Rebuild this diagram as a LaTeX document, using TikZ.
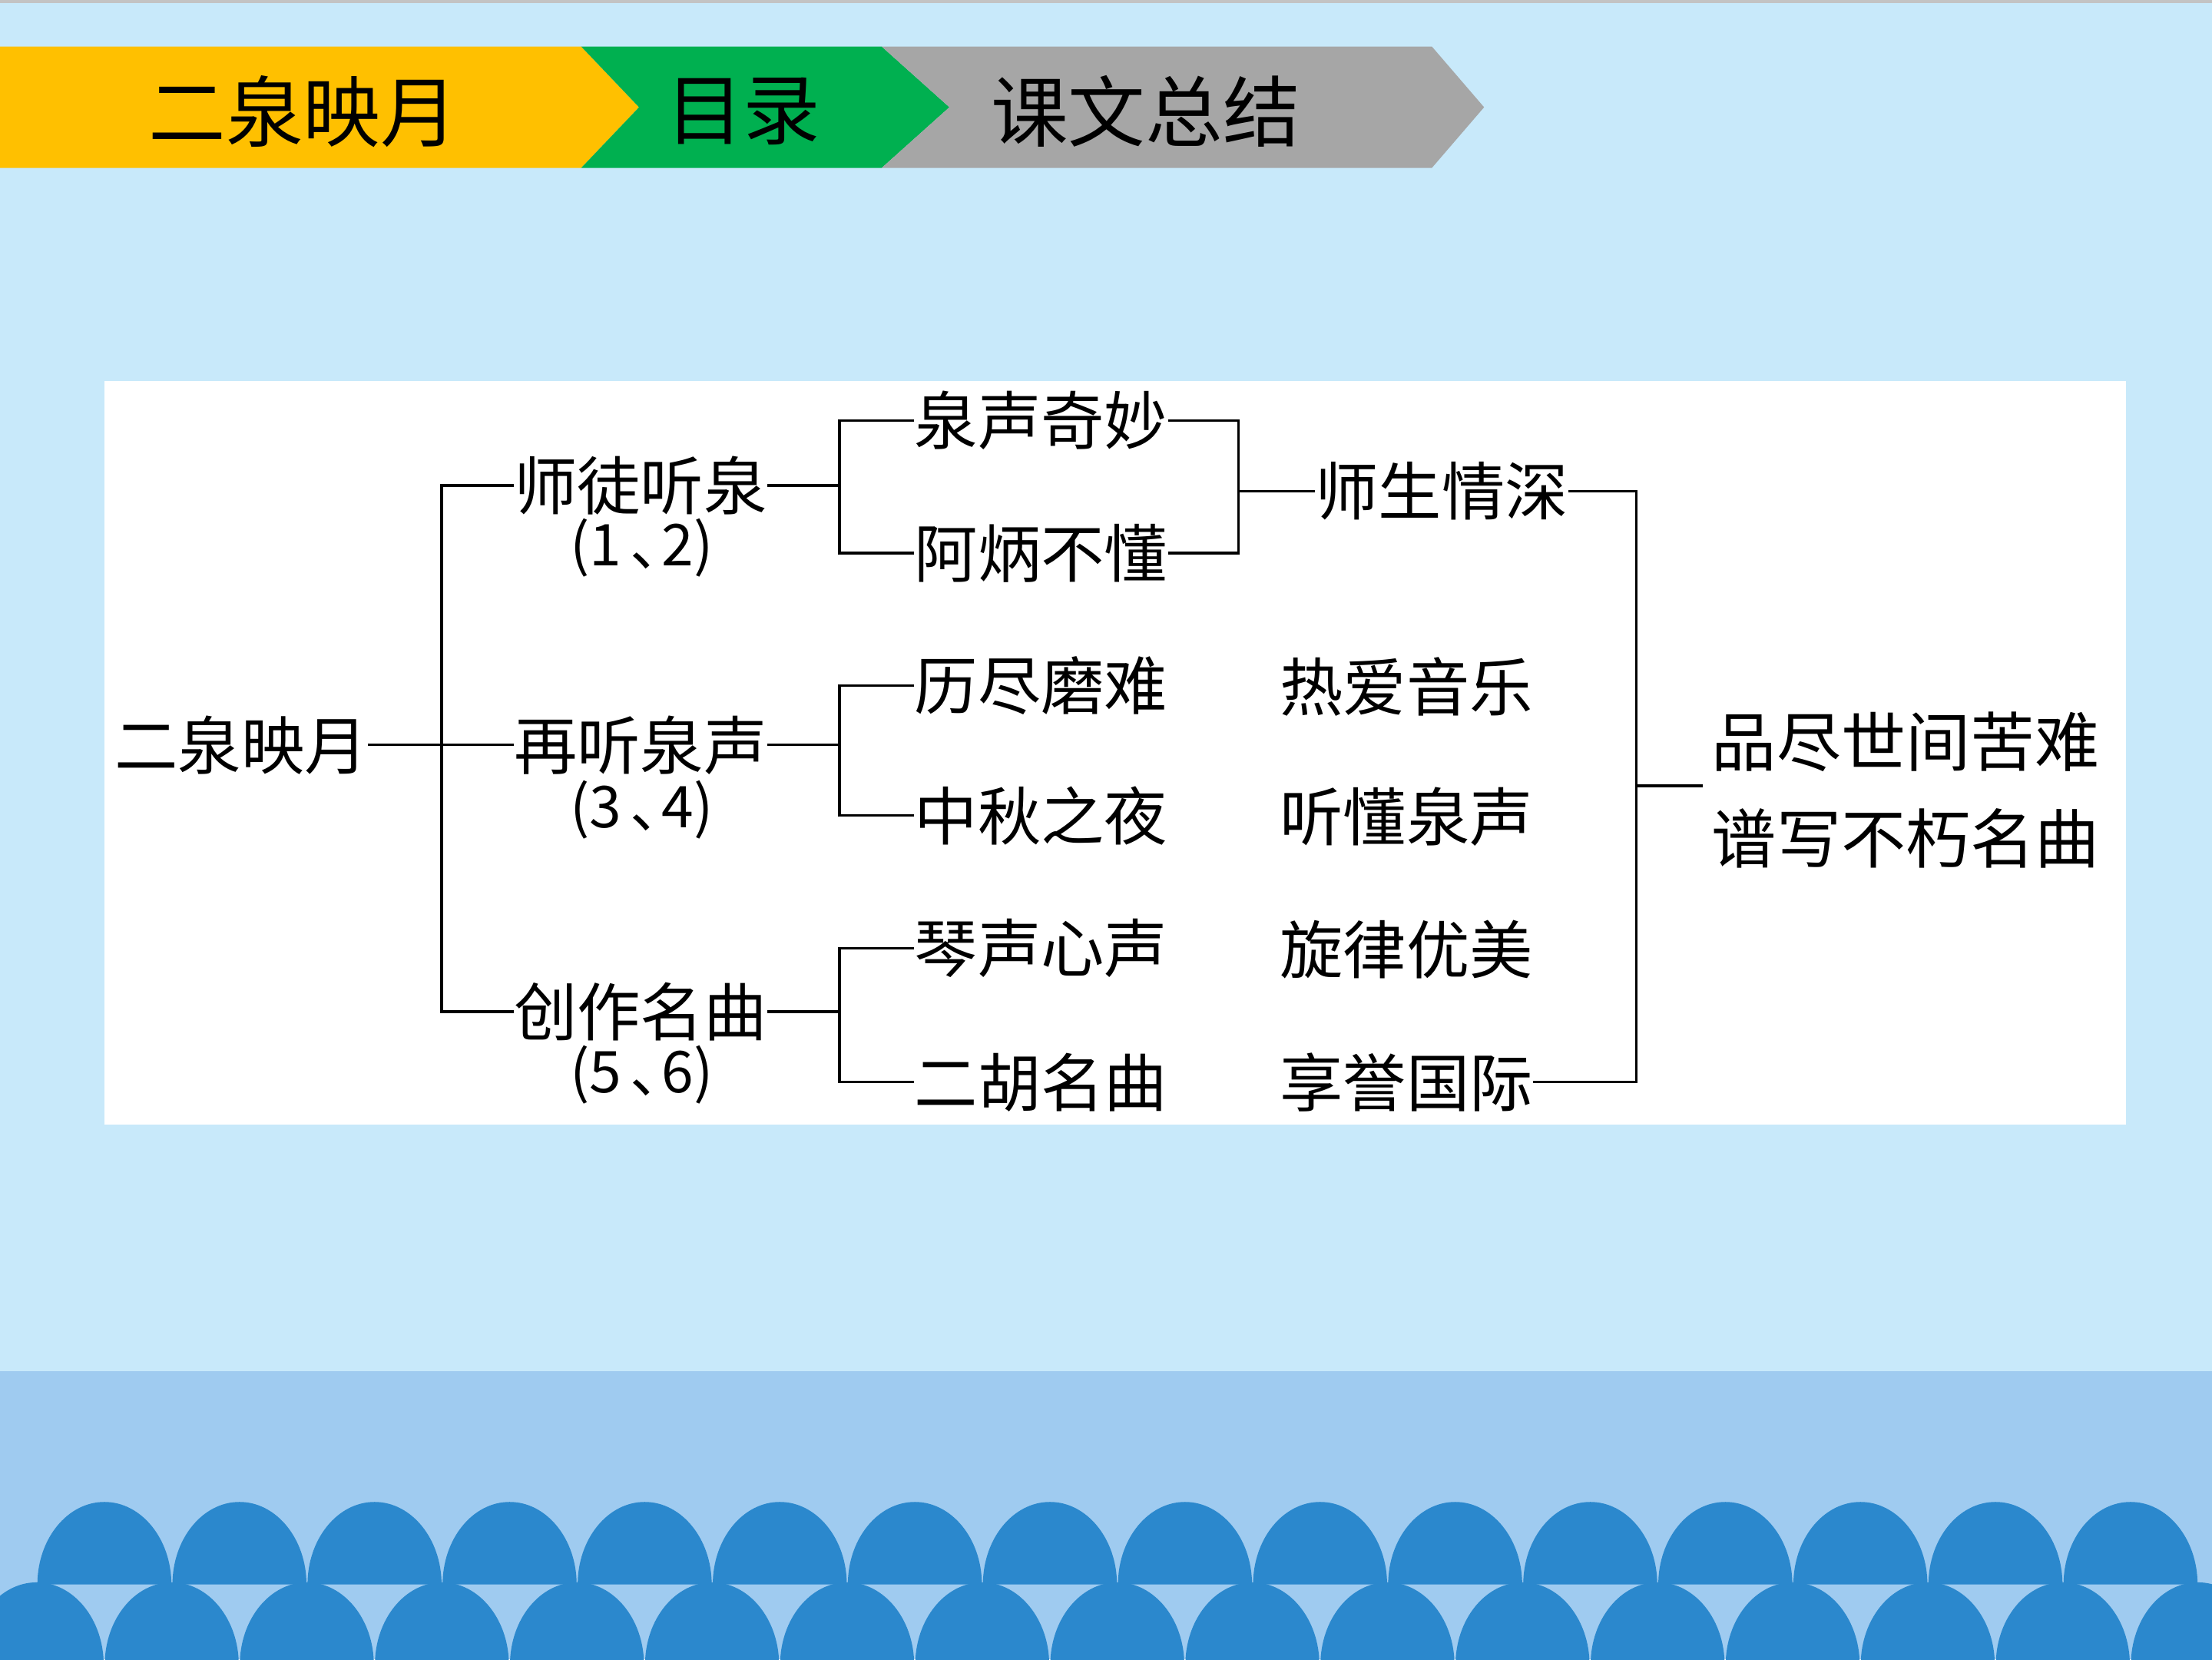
\documentclass[tikz,border=0pt]{standalone}
\usepackage{fontspec}
\newfontfamily\cjk{Noto Sans CJK SC}
\definecolor{bgblue}{HTML}{C8E9FA}
\definecolor{bandblue}{HTML}{9FCBF0}
\definecolor{wave}{HTML}{2B88CD}
\definecolor{hyellow}{HTML}{FFC000}
\definecolor{hgreen}{HTML}{00B050}
\definecolor{hgray}{HTML}{A6A6A6}
\definecolor{topgray}{HTML}{C3C3C3}
\begin{document}
\begin{tikzpicture}[x=1bp,y=-1bp,
  lbl/.style={inner sep=0pt, font=\cjk\fontsize{45}{50}\selectfont},
  num/.style={inner sep=0pt, font=\cjk\fontsize{41}{46}\selectfont},
  hdr/.style={inner sep=0pt, font=\cjk\fontsize{55}{60}\selectfont},
  conn/.style={draw=black, line width=1.8bp}]
\useasboundingbox (0,0) rectangle (1568,1176);
% background
\fill[bgblue] (0,0) rectangle (1568,1176);
\fill[topgray] (0,0) rectangle (1568,2);
\fill[bandblue] (0,972) rectangle (1568,1176);
% waves
\begin{scope}
\clip (0,0) rectangle (1568,1176);
\foreach \k in {0,...,15}{
  \pgfmathsetmacro{\cx}{74+95.75*\k}
  \fill[wave] (\cx-47.5,1123) .. controls (\cx-47.5,1090.7) and (\cx-26.2,1064.5) .. (\cx,1064.5)
     .. controls (\cx+26.2,1064.5) and (\cx+47.5,1090.7) .. (\cx+47.5,1123) -- cycle;
}
\foreach \k in {0,...,16}{
  \pgfmathsetmacro{\cx}{26+95.75*\k}
  \fill[wave] (\cx-47.5,1180) .. controls (\cx-47.5,1147.7) and (\cx-26.2,1121.5) .. (\cx,1121.5)
     .. controls (\cx+26.2,1121.5) and (\cx+47.5,1147.7) .. (\cx+47.5,1180) -- cycle;
}
\end{scope}
% header chevrons
\fill[hyellow] (0,33) -- (412,33) -- (453,76) -- (412,119) -- (0,119) -- cycle;
\fill[hgreen] (412,33) -- (625,33) -- (673,76) -- (625,119) -- (412,119) -- (453,76) -- cycle;
\fill[hgray] (625,33) -- (1015,33) -- (1052,76) -- (1015,119) -- (625,119) -- (673,76) -- cycle;
\node[hdr] (h1) at (215,79) {二泉映月};
\node[hdr] (h2) at (527,79) {目录};
\node[hdr] (h3) at (812,79) {课文总结};
% white panel
\fill[white] (74,270) rectangle (1507,797);
% labels
\node[lbl] (root) at (171,528) {二泉映月};
\node[lbl] (A) at (454,344) {师徒听泉};
\node[num] (An) at (455,388) {(1\kern0.15em、\kern-0.45em2)};
\node[lbl] (B) at (454,528) {再听泉声};
\node[num] (Bn) at (455,574) {(3\kern0.15em、\kern-0.45em4)};
\node[lbl] (C) at (454,717) {创作名曲};
\node[num] (Cn) at (455,762) {(5\kern0.15em、\kern-0.45em6)};
\node[lbl] (A1) at (738,298) {泉声奇妙};
\node[lbl] (A2) at (738,392) {阿炳不懂};
\node[lbl] (B1) at (738,486) {历尽磨难};
\node[lbl] (B2) at (738,578) {中秋之夜};
\node[lbl] (C1) at (738,672) {琴声心声};
\node[lbl] (C2) at (738,767) {二胡名曲};
\node[lbl] (S) at (1022,348) {师生情深};
\node[lbl] (R1) at (997,487) {热爱音乐};
\node[lbl] (R2) at (997,579) {听懂泉声};
\node[lbl] (R3) at (997,673) {旋律优美};
\node[lbl] (R4) at (997,767) {享誉国际};
\node[lbl, font=\cjk\fontsize{46}{69}\selectfont, align=left] (F) at (1351,560) {品尽世间苦难\\谱写不朽名曲};
% junctions
\coordinate (j1) at (313,528);
\coordinate (j2) at (595,344);
\coordinate (j3) at (878,348);
\coordinate (j4) at (1160,557);
\coordinate (j5) at (595,528);
\coordinate (j6) at (595,717);
\coordinate (fend) at (1207,557);
% connectors
\draw[conn] (root.east) -- (B.west);
\draw[conn] (A.west) -| (j1) |- (C.west);
\draw[conn] (A.east) -- (j2);
\draw[conn] (A1.west) -| (j2) |- (A2.west);
\draw[conn] (A1.east) -| (j3) |- (A2.east);
\draw[conn] (j3) -- (S.west);
\draw[conn] (S.east) -| (j4) |- (R4.east);
\draw[conn] (j4) -- (fend);
\draw[conn] (B.east) -- (j5);
\draw[conn] (B1.west) -| (j5) |- (B2.west);
\draw[conn] (C.east) -- (j6);
\draw[conn] (C1.west) -| (j6) |- (C2.west);
\end{tikzpicture}
\end{document}
